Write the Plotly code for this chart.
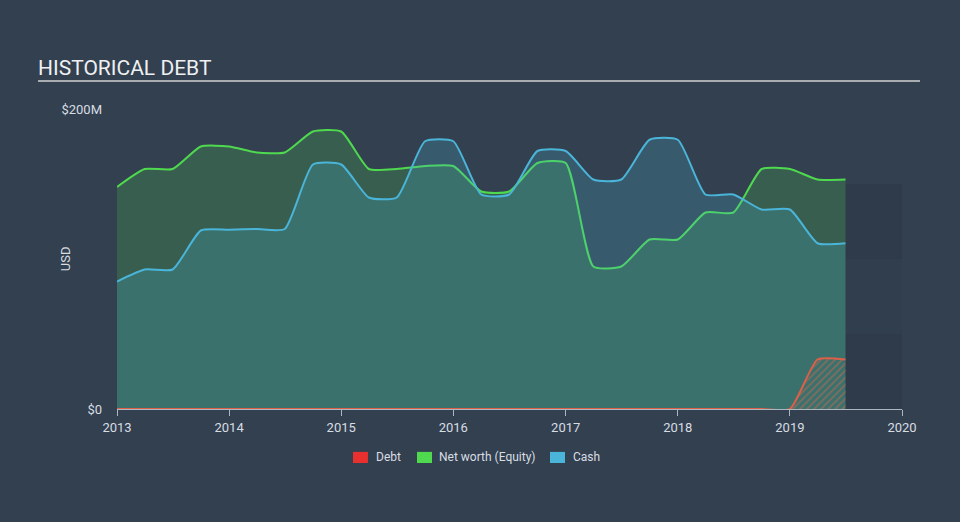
import plotly.graph_objects as go

# Quarterly observations, Q1 2013 .. Q3 2019 (USD millions)
quarters = [f"{y}-{m:02d}-01" for y in range(2013, 2020) for m in (1, 4, 7, 10)][:27]

net_worth = [148, 160, 160, 175, 175, 171, 171, 185, 185, 160, 160, 162, 162, 145,
             145, 164, 164, 95, 95, 113, 113, 131, 131, 160, 160, 153, 153]
cash = [85, 93, 93, 119, 119.5, 120, 120, 163, 163, 141, 141, 178.5, 178.5, 143,
        143, 172, 172, 153, 153, 179.5, 179.5, 143, 143, 133, 133, 110.5, 110.5]
debt = [0] * 25 + [33, 33]

y_ticks = [0, 200]
y_tick_text = ["$0", "$200M"]
x_ticks = [f"{y}-01-01" for y in range(2013, 2021)]
x_tick_text = [str(y) for y in range(2013, 2021)]

BG = "#334050"
GREEN = "#4fd94f"
BLUE = "#4ab5d8"
RED = "#e8302f"
TEXT = "#d8dde2"
AXIS = "#aeb6bf"
SMOOTH = 0.55

fig = go.Figure()

fig.add_trace(go.Scatter(
    x=quarters, y=net_worth, mode="lines", name="Net worth (Equity)",
    line=dict(color=GREEN, width=2, shape="spline", smoothing=SMOOTH),
    fill="tozeroy", fillcolor="rgba(79,217,79,0.2)", showlegend=False,
    hoverinfo="skip"))
fig.add_trace(go.Scatter(
    x=quarters, y=cash, mode="lines", name="Cash",
    line=dict(color=BLUE, width=2, shape="spline", smoothing=SMOOTH),
    fill="tozeroy", fillcolor="rgba(74,181,216,0.22)", showlegend=False,
    hoverinfo="skip"))
fig.add_trace(go.Scatter(
    x=quarters, y=debt, mode="lines", name="Debt",
    line=dict(color="#dc6048", width=2, shape="spline", smoothing=SMOOTH),
    fill="tozeroy", fillcolor="rgba(0,0,0,0)",
    fillpattern=dict(shape="/", fgcolor="#d8664e", bgcolor="rgba(0,0,0,0)",
                     size=5, solidity=0.3),
    showlegend=False, hoverinfo="skip"))

# Manual legend (squares + labels)
legend_items = [("Debt", RED, 0.3006, 0.3197, 0.3274),
                ("Net worth (Equity)", GREEN, 0.3822, 0.4013, 0.4076),
                ("Cash", BLUE, 0.5516, 0.5707, 0.5783)]
for name, col, sx0, sx1, tx in legend_items:
    fig.add_shape(type="rect", xref="paper", yref="paper", x0=sx0, x1=sx1,
                  y0=-0.18, y1=-0.143, fillcolor=col, line_width=0)
    fig.add_annotation(text=name, xref="paper", yref="paper", x=tx, y=-0.161,
                       xanchor="left", yanchor="middle", showarrow=False,
                       font=dict(size=12, color=TEXT))

# Empty forecast region bands
last = quarters[-1]
for y0, y1, op in [(0, 50, 0.07), (50, 100, 0.025), (100, 150, 0.07)]:
    fig.add_shape(type="rect", xref="x", yref="y", x0=last, x1="2020-01-01",
                  y0=y0, y1=y1, fillcolor=f"rgba(0,0,0,{op})", line_width=0,
                  layer="below")

# Title and underline
fig.add_annotation(text="HISTORICAL DEBT", xref="paper", yref="paper",
                   x=-0.1032, y=1.1367, xanchor="left", yanchor="middle",
                   showarrow=False, font=dict(size=21, color="#eef0f2"))
fig.add_shape(type="line", xref="paper", yref="paper", x0=-0.1006, x1=1.0229,
              y0=1.0933, y1=1.0933, line=dict(color="#a9adb2", width=2))
fig.add_annotation(text="USD", xref="paper", yref="paper", x=-0.066, y=0.5,
                   textangle=-90, showarrow=False, xanchor="center",
                   yanchor="middle", font=dict(size=13, color=TEXT))

fig.update_layout(
    width=960, height=522,
    paper_bgcolor=BG, plot_bgcolor=BG,
    margin=dict(l=117, r=58, t=109, b=113),
    font=dict(family="Roboto, Open Sans, sans-serif", size=13, color=TEXT),
    showlegend=False,
    xaxis=dict(type="date", range=["2013-01-01", "2020-01-01"],
               tickvals=x_ticks, ticktext=x_tick_text, showgrid=False,
               zeroline=False, showline=True, linecolor=AXIS, linewidth=1,
               ticks="outside", ticklen=6, tickcolor=AXIS,
               tickfont=dict(size=13, color=TEXT)),
    yaxis=dict(range=[0, 200], tickvals=y_ticks, ticktext=y_tick_text,
               showgrid=False, zeroline=False, showline=False, ticks="",
               ticklabelstandoff=14, tickfont=dict(size=13, color=TEXT)),
)

fig.write_html("out.html")
